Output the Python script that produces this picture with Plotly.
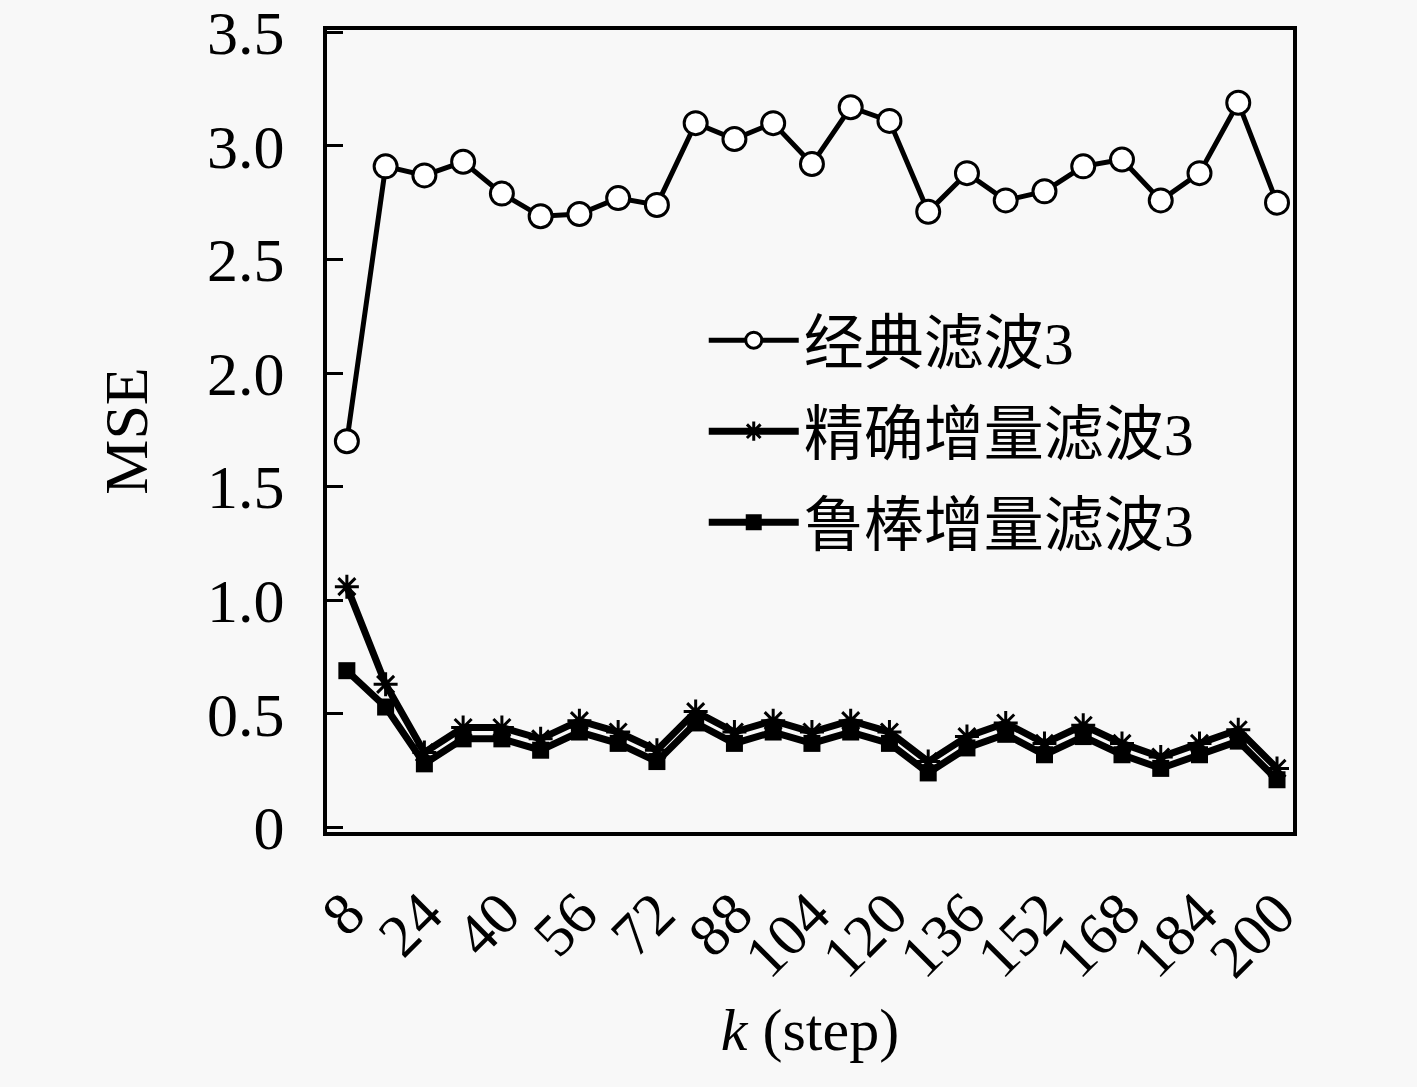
import plotly.graph_objs as go

# Setting data
k = [8, 16, 24, 32, 40, 48, 56, 64, 72, 80, 88, 96, 104,
     112, 120, 128, 136, 144, 152, 160, 168, 176, 184, 192, 200]
k_ticks = [8, 24, 40, 56, 72, 88, 104, 120, 136, 152, 168, 184, 200]
y_ticks = [0, 0.5, 1.0, 1.5, 2.0, 2.5, 3.0, 3.5]
y_ticktext = ["0", "0.5", "1.0", "1.5", "2.0", "2.5", "3.0", "3.5"]

classic = [1.70, 2.91, 2.87, 2.93, 2.79, 2.69, 2.70, 2.77, 2.74, 3.10, 3.03, 3.10, 2.92,
           3.17, 3.11, 2.71, 2.88, 2.76, 2.80, 2.91, 2.94, 2.76, 2.88, 3.19, 2.75]
exact = [1.06, 0.63, 0.33, 0.44, 0.44, 0.39, 0.47, 0.42, 0.34, 0.51, 0.42, 0.47, 0.42,
         0.47, 0.42, 0.29, 0.40, 0.46, 0.37, 0.45, 0.37, 0.31, 0.37, 0.43, 0.26]
robust = [0.69, 0.53, 0.28, 0.39, 0.39, 0.34, 0.42, 0.37, 0.29, 0.46, 0.37, 0.42, 0.37,
          0.42, 0.37, 0.24, 0.35, 0.41, 0.32, 0.40, 0.32, 0.26, 0.32, 0.38, 0.21]

names = ["经典滤波3", "精确增量滤波3", "鲁棒增量滤波3"]

serif = "Liberation Serif, Noto Sans CJK SC"
bg = "#f8f8f8"

# Setting traces
trace0 = go.Scatter(
    x=k, y=classic, name=names[0], mode="lines+markers", legendgroup="a",
    line=dict(color="black", width=5),
    marker=dict(symbol="circle", size=23, color="white",
                line=dict(color="black", width=3))
)
trace1 = go.Scatter(
    x=k, y=exact, name=names[1], mode="lines+markers", legendgroup="b",
    line=dict(color="black", width=7),
    marker=dict(symbol="asterisk-open", size=20,
                line=dict(color="black", width=3))
)
trace2 = go.Scatter(
    x=k, y=robust, name=names[2], mode="lines+markers", legendgroup="c",
    line=dict(color="black", width=7),
    marker=dict(symbol="square", size=17, color="black")
)

data = [trace0, trace1, trace2]

# Setting layout
layout = go.Layout(
    width=1417, height=1087,
    margin=dict(l=327, r=124, t=30, b=255),
    paper_bgcolor=bg, plot_bgcolor=bg,
    font=dict(family=serif, size=60, color="black"),
    xaxis=dict(
        range=[3.9, 203.3], tickvals=k_ticks, tickangle=-45,
        ticks="", showgrid=False, zeroline=False, automargin=False,
        showline=True, linecolor="black", linewidth=4, mirror=True,
        ticklabelstandoff=18,
        tickfont=dict(family=serif, size=60),
        title=dict(text="<i>k</i> (step)", standoff=20,
                   font=dict(family=serif, size=60))
    ),
    yaxis=dict(
        range=[-0.02, 3.51], tickvals=y_ticks, ticktext=y_ticktext,
        ticks="inside", ticklen=16, tickwidth=3, tickcolor="black",
        showgrid=False, zeroline=False, automargin=False,
        showline=True, linecolor="black", linewidth=4, mirror=True,
        ticklabelstandoff=26, ticklabeloverflow="allow",
        tickfont=dict(family=serif, size=62),
        title=dict(text="MSE", standoff=40,
                   font=dict(family=serif, size=62))
    ),
    legend=dict(
        x=0.39, y=0.67, xanchor="left", yanchor="top",
        bgcolor="rgba(0,0,0,0)", traceorder="grouped", tracegroupgap=10,
        itemwidth=90,
        font=dict(family=serif, size=60)
    )
)

# Plotting data
fig = go.Figure(data=data, layout=layout)
fig.write_html(
    "out.html",
    config={"displayModeBar": False},
    post_script="document.body.style.margin='0';document.body.style.background='%s';" % bg
)
